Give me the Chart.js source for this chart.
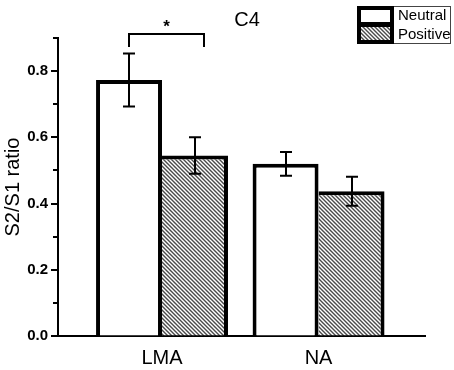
<!DOCTYPE html>
<html>
<head>
<meta charset="utf-8">
<script src="https://cdn.jsdelivr.net/npm/chart.js@4.4.1/dist/chart.umd.min.js"></script>
<style>
  html, body { margin: 0; padding: 0; background: #fff; }
  canvas { display: block; }
</style>
</head>
<body>
<canvas id="c4" width="454" height="370"></canvas>
<script>
// values (S2/S1 ratio, mean +/- error)
const categories = ["LMA", "NA"];
const seriesNames = ["Neutral", "Positive"];
const neutralValues = [0.773, 0.52];
const neutralErrors = [0.08, 0.036];
const positiveValues = [0.545, 0.437];
const positiveErrors = [0.055, 0.044];
const yMin = 0, yMax = 0.9, yStep = 0.1;
// significance marker between the two LMA bars
const sigBrackets = [{ category: 0, top: 0.912, legEnd: 0.873, label: "*" }];

const FONT = "'Liberation Sans', Arial, sans-serif";

function makeHatch(){
   let p = document.createElement("canvas");
   p.width = 4; p.height = 4;
   let g = p.getContext("2d");
   g.fillStyle = "#ffffff";
   g.fillRect(0, 0, 4, 4);
   g.strokeStyle = "#4a4a4a";
   g.lineWidth = 1.4;
   g.beginPath();
   g.moveTo(-1, -1); g.lineTo(5, 5);
   g.moveTo(-1, 3); g.lineTo(1, 5);
   g.moveTo(3, -1); g.lineTo(5, 1);
   g.stroke();
   return g.createPattern(p, "repeat");
}

const hatch = makeHatch();

function toPoints(values){
   return values.map((v, i) => ({ x: i + 1, y: v }));
}

const errorBars = {
   id: "errorBars",
   afterDatasetsDraw(chart){
      let ctx = chart.ctx;
      let ys = chart.scales.y;
      let errs = [neutralErrors, positiveErrors];
      ctx.save();
      ctx.strokeStyle = "#000";
      ctx.lineWidth = 2;
      chart.data.datasets.forEach((ds, di) => {
         let meta = chart.getDatasetMeta(di);
         meta.data.forEach((bar, i) => {
            let v = ds.data[i].y, e = errs[di][i];
            let x = Math.round(bar.x);
            let t = ys.getPixelForValue(v + e);
            let b = ys.getPixelForValue(v - e);
            ctx.beginPath();
            ctx.moveTo(x, t); ctx.lineTo(x, b);
            ctx.moveTo(x - 6, t); ctx.lineTo(x + 6, t);
            ctx.moveTo(x - 6, b); ctx.lineTo(x + 6, b);
            ctx.stroke();
         });
      });

      // significance bracket
      sigBrackets.forEach(s => {
         let a = chart.getDatasetMeta(0).data[s.category];
         let b = chart.getDatasetMeta(1).data[s.category];
         let x1 = Math.round(a.x), x2 = Math.round(b.x + b.width * 0.14);
         let yt = ys.getPixelForValue(s.top);
         let yb = ys.getPixelForValue(s.legEnd);
         ctx.lineWidth = 2;
         ctx.beginPath();
         ctx.moveTo(x1, yb); ctx.lineTo(x1, yt); ctx.lineTo(x2, yt); ctx.lineTo(x2, yb);
         ctx.stroke();
         ctx.fillStyle = "#000";
         ctx.font = "bold 17px " + FONT;
         ctx.textAlign = "center";
         ctx.textBaseline = "alphabetic";
         ctx.fillText(s.label, (x1 + x2) / 2, yt - 2);
      });
      ctx.restore();
   }
};

const axisDecor = {
   id: "axisDecor",
   afterDraw(chart){
      let ctx = chart.ctx;
      let ys = chart.scales.y;
      let area = chart.chartArea;
      ctx.save();
      // y ticks: long for labelled, short for minor
      ctx.strokeStyle = "#000";
      ctx.lineWidth = 2;
      ys.ticks.forEach(t => {
         let major = Math.round(t.value * 10) % 2 === 0;
         let y = Math.round(ys.getPixelForValue(t.value));
         ctx.beginPath();
         ctx.moveTo(area.left - (major ? 7 : 5), y);
         ctx.lineTo(area.left, y);
         ctx.stroke();
      });

      // y title
      ctx.fillStyle = "#000";
      ctx.font = "20px " + FONT;
      ctx.textAlign = "center";
      ctx.textBaseline = "middle";
      ctx.translate(13, (area.top + area.bottom) / 2);
      ctx.rotate(-Math.PI / 2);
      ctx.fillText("S2/S1 ratio", 0, 0);
      ctx.setTransform(1, 0, 0, 1, 0, 0);

      // title
      ctx.font = "20px " + FONT;
      ctx.fillText("C4", 247, 20);

      // legend
      let lx = 357, ly = 6, lw = 94, lh = 38, sw = 37;
      ctx.lineWidth = 1;
      ctx.strokeStyle = "#444";
      ctx.strokeRect(lx + 0.5, ly + 0.5, lw - 1, lh - 1);
      ctx.fillStyle = "#000";
      ctx.fillRect(lx, ly, sw, lh);
      ctx.fillStyle = "#fff";
      ctx.fillRect(lx + 4, ly + 4, sw - 8, 12);
      ctx.fillStyle = hatch;
      ctx.fillRect(lx + 4, ly + 21, sw - 8, 13);
      ctx.fillStyle = "#000";
      ctx.font = "15px " + FONT;
      ctx.textAlign = "left";
      ctx.fillText(seriesNames[0], lx + sw + 4, ly + 10);
      ctx.fillText(seriesNames[1], lx + sw + 4, ly + 29);
      ctx.restore();
   }
};

new Chart(document.getElementById("c4"), {
   type: "bar",
   data: {
      datasets: [
         {
            label: seriesNames[0],
            data: toPoints(neutralValues),
            backgroundColor: "#ffffff",
            borderColor: "#000",
            borderWidth: 4
         },
         {
            label: seriesNames[1],
            data: toPoints(positiveValues),
            backgroundColor: hatch,
            borderColor: "#000",
            borderWidth: { top: 4, right: 4, bottom: 0, left: 0 }
         }
      ]
   },
   options: {
      responsive: false,
      animation: false,
      layout: { padding: { top: 38, right: 29, left: 0, bottom: 0 } },
      datasets: { bar: { categoryPercentage: 0.843, barPercentage: 1.0 } },
      plugins: {
         legend: { display: false },
         tooltip: { enabled: false }
      },
      scales: {
         x: {
            type: "linear",
            offset: false,
            min: 0.3355,
            max: 2.68,
            afterBuildTicks: s => { s.ticks = categories.map((c, i) => ({ value: i + 1 })); },
            afterFit: s => { s.height = 34; },
            border: { display: true, color: "#000", width: 2 },
            grid: { display: false, drawTicks: false, offset: false },
            ticks: {
               padding: 10,
               color: "#000",
               font: { family: FONT, size: 20 },
               callback: v => categories[v - 1]
            }
         },
         y: {
            min: yMin,
            max: yMax,
            afterFit: s => { s.width = 58; },
            border: { display: true, color: "#000", width: 2 },
            grid: { display: true, drawOnChartArea: false, drawTicks: true, tickLength: 6, tickColor: "rgba(0,0,0,0)" },
            ticks: {
               stepSize: yStep,
               padding: 4,
               color: "#000",
               font: { family: FONT, size: 15, weight: "bold" },
               callback: v => (Math.round(v * 10) % 2 === 0 ? v.toFixed(1) : "")
            }
         }
      }
   },
   plugins: [errorBars, axisDecor]
});
</script>
</body>
</html>
